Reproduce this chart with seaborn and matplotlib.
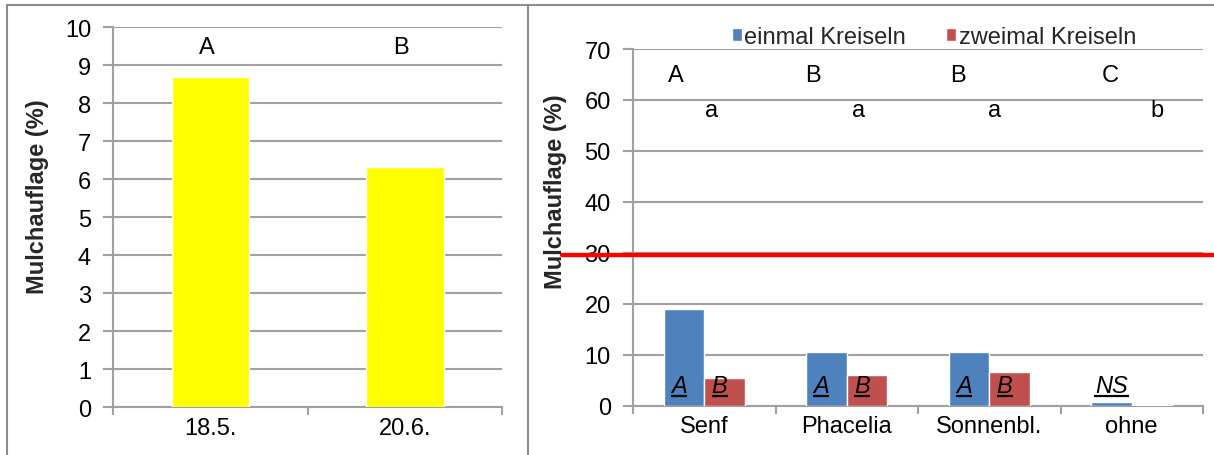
import matplotlib
matplotlib.use("Agg")
import matplotlib.pyplot as plt
import seaborn as sns
import pandas as pd
from matplotlib.lines import Line2D

# ---- data ----
dates = ["18.5.", "20.6."]
mulch_dates = [8.7, 6.33]
date_letters = ["A", "B"]

crops = ["Senf", "Phacelia", "Sonnenbl.", "ohne"]
series_names = ["einmal Kreiseln", "zweimal Kreiseln"]
einmal = [18.9, 10.5, 10.5, 0.7]
zweimal = [5.45, 6.1, 6.7, 0.1]
crop_upper = ["A", "B", "B", "C"]
crop_lower = ["a", "a", "a", "b"]
inbar_labels = [["A", "B"], ["A", "B"], ["A", "B"], ["NS", None]]
threshold = 29.6

sns.set_theme(style="white")
plt.rcParams["font.family"] = ["Liberation Sans", "DejaVu Sans"]

FS = 17
GRID = "#A0A0A0"
fig = plt.figure(figsize=(12.14, 4.56), dpi=100)
W, H = 1214, 456

def axrect(l, r, t, b):
    return [l / W, 1 - b / H, (r - l) / W, (b - t) / H]

# ---- left chart ----
ax1 = fig.add_axes(axrect(113.3, 502, 28.3, 408.3))
df1 = pd.DataFrame({"date": dates, "val": mulch_dates})
sns.barplot(data=df1, x="date", y="val", color="#FFFF00", width=0.4,
            saturation=1, ax=ax1, zorder=3)
ax1.set_ylim(0, 10)
ax1.set_xlim(-0.5, 1.5)
ax1.set_yticks(range(0, 11))
for i, t in enumerate(date_letters):
    ax1.text(i - 0.02, 9.47, t, ha="center", va="center", fontsize=FS, color="black")

# ---- right chart ----
ax2 = fig.add_axes(axrect(633, 1203, 50, 406.7))
df2 = pd.DataFrame({
    "crop": crops * 2,
    "val": einmal + zweimal,
    "series": [series_names[0]] * 4 + [series_names[1]] * 4,
})
sns.barplot(data=df2, x="crop", y="val", hue="series", order=crops,
            hue_order=series_names, palette=["#4F81BD", "#C0504D"],
            width=0.57, saturation=1, ax=ax2, zorder=3)
ax2.set_ylim(0, 70)
ax2.set_xlim(-0.5, 3.5)
ax2.set_yticks(range(0, 71, 10))

up_off = [-0.20, -0.24, -0.22, -0.15]
lo_off = [0.05, 0.08, 0.04, 0.18]
bw = 0.57 / 2
for i in range(len(crops)):
    ax2.text(i + up_off[i], 64.9, crop_upper[i], ha="center", va="center",
             fontsize=FS, color="black")
    ax2.text(i + lo_off[i], 58.0, crop_lower[i], ha="center", va="center",
             fontsize=FS, color="black")
    for j, lab in enumerate(inbar_labels[i]):
        if lab is None:
            continue
        xc = i + (j - 0.5) * bw - (0.035 if lab != "NS" else 0.0)
        ax2.text(xc, 4.0, lab, ha="center", va="center", fontsize=FS,
                 style="italic", color="black", zorder=5)
        hw = 0.056 if lab != "NS" else 0.12
        ax2.plot([xc - hw, xc + hw], [1.9, 1.9], color="black", lw=1.6,
                 solid_capstyle="butt", zorder=5)

ax2.axhline(threshold, xmin=-0.125, xmax=1.02, color="#FF0000", lw=3.2,
            clip_on=False, zorder=4)

# legend
handles, labels = ax2.get_legend_handles_labels()
ax2.get_legend().remove()
fig.legend(handles, labels, loc="center", bbox_to_anchor=(934 / W, 1 - 38 / H),
           ncol=2, frameon=False, fontsize=FS, handlelength=0.42,
           handleheight=0.42, handletextpad=0.1, columnspacing=1.7,
           borderpad=0, borderaxespad=0)

# ---- shared styling ----
for ax, ylx, yly in [(ax1, -0.165, 0.556), (ax2, -0.116, 0.602)]:
    ax.set_xlabel("")
    ax.set_ylabel("Mulchauflage (%)", fontsize=FS, fontweight="bold")
    ax.yaxis.set_label_coords(ylx, yly)
    ax.grid(axis="y", color=GRID, lw=1.5, zorder=0)
    ax.set_axisbelow(True)
    for s in ["top", "right"]:
        ax.spines[s].set_visible(False)
    for s in ["left", "bottom"]:
        ax.spines[s].set_color(GRID)
        ax.spines[s].set_linewidth(1.5)
        ax.spines[s].set_zorder(2)
    ax.tick_params(axis="y", which="major", length=7, width=1.5, color=GRID,
                   labelsize=FS, pad=9, left=True, direction="out")
    ax.tick_params(axis="x", which="major", length=0, labelsize=FS, pad=7)
    n = len(ax.get_xticks())
    ax.set_xticks([k - 0.5 for k in range(n + 1)], minor=True)
    ax.tick_params(axis="x", which="minor", length=6, width=1.5, color=GRID,
                   bottom=True, direction="out")
    for lab in ax.get_yticklabels() + ax.get_xticklabels():
        lab.set_color("black")

# ---- panel borders ----
BC = "#8C8C8C"
fig.add_artist(Line2D([7 / W, 7 / W], [0, 1 - 6 / H], color=BC, lw=1.5))
fig.add_artist(Line2D([7 / W, 1.0], [1 - 6 / H, 1 - 6 / H], color=BC, lw=1.5))
fig.add_artist(Line2D([528 / W, 528 / W], [0, 1 - 6 / H], color=BC, lw=1.5))

fig.savefig("out.png", dpi=100)
